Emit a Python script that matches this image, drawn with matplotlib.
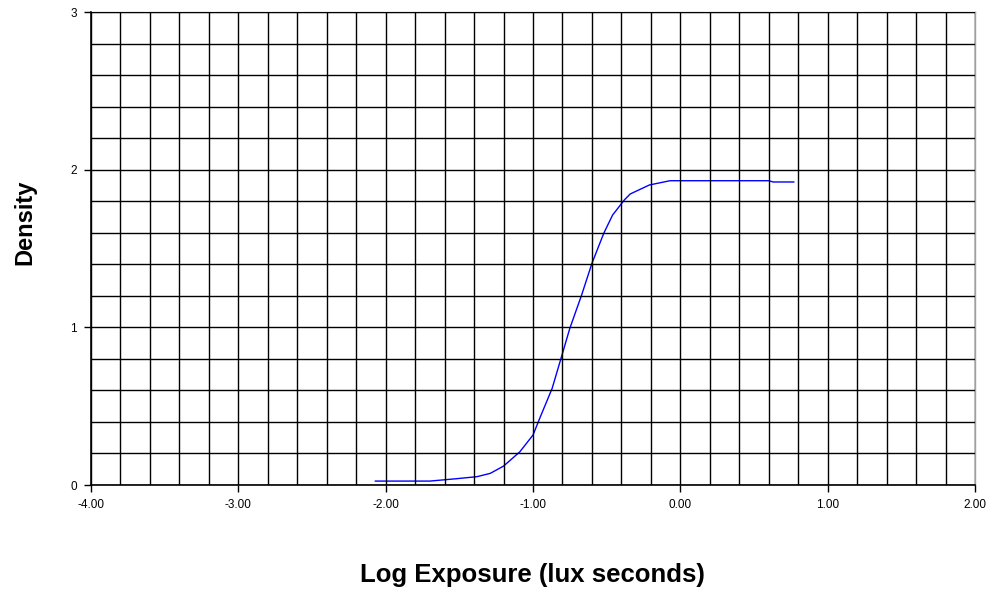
import numpy as np
import matplotlib.pyplot as plt
from matplotlib.ticker import MultipleLocator, FormatStrFormatter

# characteristic curve
log_exposure = [-2.07, -1.70, -1.52, -1.38, -1.29, -1.20, -1.09, -1.00, -0.95,
                -0.87, -0.81, -0.75, -0.67, -0.60, -0.52, -0.46, -0.38, -0.34,
                -0.21, -0.07, 0.60, 0.63, 0.77]
density = [0.025, 0.025, 0.04, 0.053, 0.074, 0.12, 0.21, 0.317, 0.433,
           0.613, 0.803, 0.994, 1.205, 1.406, 1.596, 1.712, 1.808, 1.846,
           1.903, 1.930, 1.930, 1.922, 1.922]

plt.rcParams['font.family'] = ['Liberation Sans', 'DejaVu Sans']

fig = plt.figure(figsize=(10, 5.92), dpi=100)
ax = fig.add_axes([0.091, 0.1807, 0.884, 0.799])

ax.plot(log_exposure, density, color='#0000ff', linewidth=1.0)

ax.set_xlim(-4, 2)
ax.set_ylim(0, 3)

# grid every 0.2 in both directions
ax.xaxis.set_major_locator(MultipleLocator(1))
ax.yaxis.set_major_locator(MultipleLocator(1))
ax.xaxis.set_minor_locator(MultipleLocator(0.2))
ax.yaxis.set_minor_locator(MultipleLocator(0.2))
ax.grid(which='both', color='black', linewidth=1.0)
ax.set_axisbelow(False)

ax.xaxis.set_major_formatter(FormatStrFormatter('%.2f'))
ax.yaxis.set_major_formatter(FormatStrFormatter('%d'))
ax.tick_params(which='major', length=5, width=1, color='black', labelsize=8.5, pad=5)
ax.tick_params(which='minor', length=0)

for side in ['left', 'bottom']:
    ax.spines[side].set_color('black')
    ax.spines[side].set_linewidth(1.2)
for side in ['top', 'right']:
    ax.spines[side].set_color('#a0a0a0')
    ax.spines[side].set_linewidth(1.0)

fig.text(0.532, 0.029, 'Log Exposure (lux seconds)', ha='center', va='center',
         fontsize=18.5, fontweight='bold')
fig.text(0.025, 0.624, 'Density', ha='center', va='center', rotation=90,
         fontsize=17, fontweight='bold')

fig.savefig('out.png', dpi=100, facecolor='white')
